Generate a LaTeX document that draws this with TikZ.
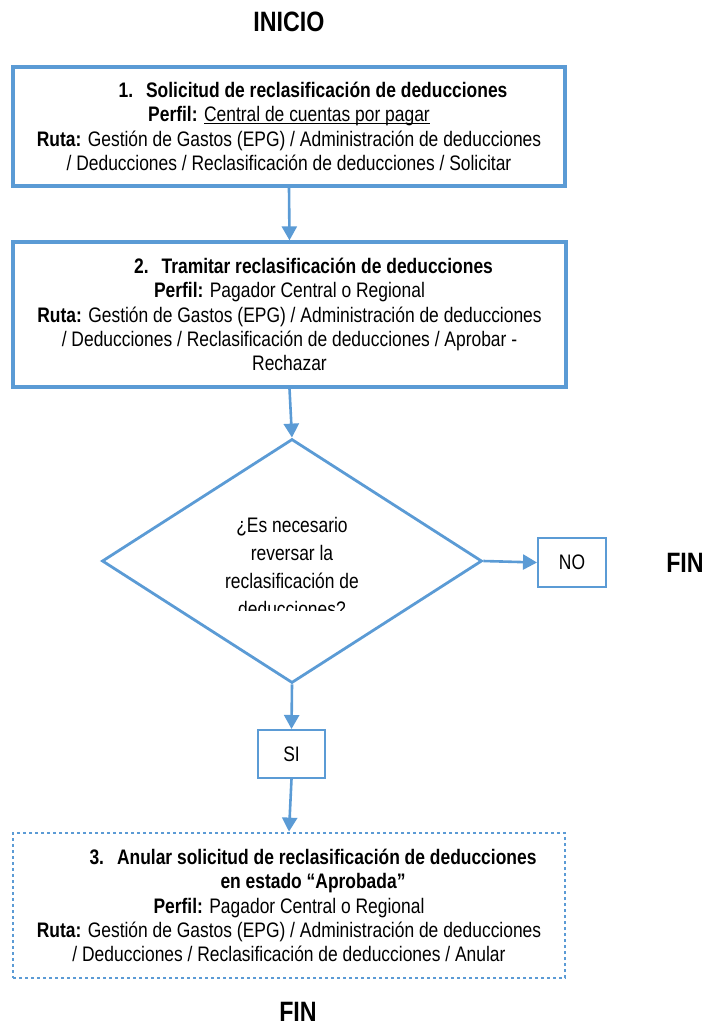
\documentclass[tikz,border=0pt]{standalone}
\usepackage{fontspec}
\setmainfont{Liberation Sans}[FakeStretch=0.83]
\usetikzlibrary{arrows.meta,shapes.geometric}
\definecolor{flowblue}{RGB}{91,155,213}
\begin{document}
\begin{tikzpicture}[x=1pt,y=-1pt,
  boxtxt/.style={font=\fontsize{21}{24.4}\selectfont, align=center},
  stepbox/.style={draw=flowblue, line width=3.3pt, boxtxt, inner sep=0pt},
  dotbox/.style={draw=flowblue, line width=2.8pt, dash pattern=on 2.8pt off 3.2pt, boxtxt, inner sep=0pt},
  ansbox/.style={draw=flowblue, line width=2pt, font=\fontsize{21}{24.4}\selectfont, inner sep=0pt},
  decision/.style={diamond, draw=flowblue, line width=2.8pt, inner sep=0pt, minimum width=380pt, minimum height=244pt},
  qtxt/.style={font=\fontsize{21}{28}\selectfont, align=center, inner sep=0pt},
  titletxt/.style={font=\fontsize{28}{30}\selectfont\bfseries, inner sep=0pt},
  arr/.style={draw=flowblue, line width=2.6pt, -{Triangle[length=14pt,width=15pt]}}
]
\useasboundingbox (0,0) rectangle (704,1028);

\node[titletxt] (inicio) at (289,22) {INICIO};

\node[stepbox, minimum width=552pt, minimum height=119pt] (b1) at (289,126.5)
{\hspace*{48pt}\textbf{1.\hspace{13pt}Solicitud de reclasificación de deducciones}\\
\textbf{Perfil:} \underline{\smash{Central de cuentas por pagar}}\\
\textbf{Ruta:} Gestión de Gastos (EPG) / Administración de deducciones\\
/ Deducciones / Reclasificación de deducciones / Solicitar};

\node[stepbox, minimum width=553pt, minimum height=145pt] (b2) at (289.5,314.5)
{\hspace*{48pt}\textbf{2.\hspace{13pt}Tramitar reclasificación de deducciones}\\
\textbf{Perfil:} Pagador Central o Regional\\
\textbf{Ruta:} Gestión de Gastos (EPG) / Administración de deducciones\\
/ Deducciones / Reclasificación de deducciones / Aprobar -\\
Rechazar};

\node[decision] (dia) at (292,561) {};
\begin{scope}
\clip (150,500) rectangle (430,610);
\node[qtxt] (qtext) at (292,566.5) {¿Es necesario\\reversar la\\reclasificación de\\deducciones?};
\end{scope}

\node[ansbox, minimum width=68pt, minimum height=49pt] (no) at (572,562.5) {NO};
\node[titletxt] (finr) at (685,563) {FIN};

\node[ansbox, minimum width=67pt, minimum height=48pt] (si) at (291.5,754) {SI\hspace{11pt}};

\node[dotbox, minimum width=552pt, minimum height=145pt] (b3) at (289,905.5)
{\hspace*{48pt}\textbf{3.\hspace{13pt}Anular solicitud de reclasificación de deducciones}\\
\hspace*{48pt}\textbf{en estado “Aprobada”}\\
\textbf{Perfil:} Pagador Central o Regional\\
\textbf{Ruta:} Gestión de Gastos (EPG) / Administración de deducciones\\
/ Deducciones / Reclasificación de deducciones / Anular};

\node[titletxt] (finb) at (298,1012) {FIN};

\draw[arr] (b1.south) -- (b2.north);
\draw[arr] (b2.south) -- (dia.north);
\draw[arr] (dia.east) -- (no.west);
\draw[arr] (dia.south) -- (si.north);
\draw[arr] (si.south) -- (b3.north);
\end{tikzpicture}
\end{document}
